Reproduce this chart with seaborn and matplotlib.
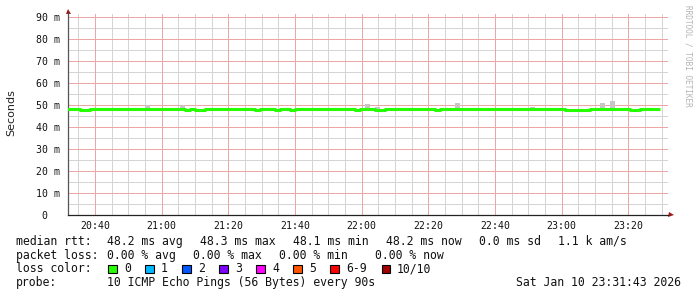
import numpy as np
import pandas as pd
import matplotlib
matplotlib.use("Agg")
import matplotlib.pyplot as plt
import seaborn as sns
from matplotlib.patches import Rectangle
from matplotlib.ticker import FixedLocator, FixedFormatter

# ---------------- data ----------------
# median rtt (ms) per 90 s step, first step starts 20:31:00
median_ms = [
    48.2, 48.2, 48.2, 47.8, 47.8, 48.2, 48.2, 48.2, 48.2, 48.2,
    48.2, 48.2, 48.2, 48.2, 48.2, 48.2, 48.2, 48.2, 48.2, 48.2,
    48.2, 48.2, 48.2, 48.2, 47.8, 48.2, 47.8, 47.8, 48.2, 48.2,
    48.2, 48.2, 48.2, 48.2, 48.2, 48.2, 48.2, 48.2, 47.8, 48.2,
    48.2, 48.2, 47.8, 48.2, 48.2, 47.8, 48.2, 48.2, 48.2, 48.2,
    48.2, 48.2, 48.2, 48.2, 48.2, 48.2, 48.2, 48.2, 47.8, 48.2,
    48.2, 48.2, 47.8, 47.8, 48.2, 48.2, 48.2, 48.2, 48.2, 48.2,
    48.2, 48.2, 48.2, 48.2, 47.8, 48.2, 48.2, 48.2, 48.2, 48.2,
    48.2, 48.2, 48.2, 48.2, 48.2, 48.2, 48.2, 48.2, 48.2, 48.2,
    48.2, 48.2, 48.2, 48.2, 48.2, 48.2, 48.2, 48.2, 48.2, 48.2,
    47.8, 47.8, 47.8, 47.8, 47.8, 48.2, 48.2, 48.2, 48.2, 48.2,
    48.2, 48.2, 48.2, 47.8, 47.8, 48.2, 48.2, 48.2, 48.2,
]
# smoke (max ping) spikes visible above the median line
smoke_step = [16, 23, 60, 62, 78, 93, 107, 109]
smoke_top = [50.2, 49.9, 50.5, 49.0, 51.0, 49.2, 51.0, 51.9]
smoke_floor = 48.0

step_min = 1.5            # 90 s
first_step = 31.0         # minutes after 20:00
x_start, x_end = 31.72, 211.72   # 20:31:43 .. 23:31:43

xtick_pos = [40, 60, 80, 100, 120, 140, 160, 180, 200]
xtick_lab = ["20:40", "21:00", "21:20", "21:40", "22:00", "22:20", "22:40", "23:00", "23:20"]
xminor_pos = [35, 45, 50, 55, 65, 70, 75, 85, 90, 95, 105, 110, 115, 125, 130, 135,
              145, 150, 155, 165, 170, 175, 185, 190, 195, 205, 210]
ytick_pos = [0, 10, 20, 30, 40, 50, 60, 70, 80, 90]
ytick_lab = ["0  ", "10 m", "20 m", "30 m", "40 m", "50 m", "60 m", "70 m", "80 m", "90 m"]
yminor_pos = [5, 15, 25, 35, 45, 55, 65, 75, 85]

loss_labels = ["0", "1", "2", "3", "4", "5", "6-9", "10/10"]
loss_colors = ["#26ff00", "#00b8ff", "#0059ff", "#7e00ff", "#ff00ff", "#ff5500", "#ff0000", "#a10000"]

row1 = ["median rtt:", "48.2 ms avg", "48.3 ms max", "48.1 ms min", "48.2 ms now", "0.0 ms sd", "1.1 k am/s"]
row2 = ["packet loss:", "0.00 % avg", "0.00 % max", "0.00 % min", "0.00 % now"]
probe_txt = ["probe:", "10 ICMP Echo Pings (56 Bytes) every 90s"]
date_txt = "Sat Jan 10 23:31:43 2026"

# ---------------- figure ----------------
W, H = 697, 297
sns.set_theme(style="white")
plt.rcParams["font.family"] = ["DejaVu Sans"]
fig = plt.figure(figsize=(W / 100, H / 100), dpi=100, facecolor="white")

def fx(x):
    return x / W

def fy(y):
    return 1 - y / H

ax = fig.add_axes([fx(67.5), fy(215), 600 / W, 202 / H])
ax.set_facecolor("white")

# grid (dotted, drawn first)
dot = (0, (1, 1))
g_minor = dict(color="#d4d4d4", linestyle=dot, lw=0.72, antialiased=False, zorder=0.5)
g_major = dict(color="#eca6a6", linestyle=dot, lw=0.72, antialiased=False, zorder=0.6)
for v in yminor_pos:
    ax.axhline(v, **g_minor)
for v in xminor_pos:
    ax.axvline(v, **g_minor)
for v in ytick_pos[1:]:
    ax.axhline(v, **g_major)
for v in xtick_pos:
    ax.axvline(v, **g_major)

times = [first_step + step_min * i for i in range(len(median_ms) + 1)]
df = pd.DataFrame({"t": times, "ms": median_ms + [median_ms[-1]]})

smoke_t = [first_step + step_min * s for s in smoke_step]
ax.bar(smoke_t, [top - smoke_floor for top in smoke_top], bottom=smoke_floor,
       width=step_min, align="edge", color="#c6c6c6", linewidth=0, zorder=2)

sns.lineplot(data=df, x="t", y="ms", ax=ax, estimator=None, drawstyle="steps-post",
             color="#26ff00", lw=2.2, solid_capstyle="butt", zorder=3)

ax.set_xlim(x_start, x_end)
ax.set_ylim(0, 92)
ax.set_xlabel("")
ax.set_ylabel("")
ax.grid(False)

ax.xaxis.set_major_locator(FixedLocator(xtick_pos))
ax.xaxis.set_major_formatter(FixedFormatter(xtick_lab))
ax.xaxis.set_minor_locator(FixedLocator(xminor_pos))
ax.yaxis.set_major_locator(FixedLocator(ytick_pos))
ax.yaxis.set_major_formatter(FixedFormatter(ytick_lab))
ax.yaxis.set_minor_locator(FixedLocator(yminor_pos))

mono = "DejaVu Sans Mono"
ax.tick_params(which="major", length=1.6, width=0.72, color="#e6a0a0", direction="out",
               labelsize=7.1, labelcolor="#111111")
ax.tick_params(which="minor", length=1.6, width=0.72, color="#c8c8c8", direction="out")
ax.tick_params(axis="y", which="major", pad=4.0)
ax.tick_params(axis="x", which="major", pad=3.0)
for lab in ax.get_xticklabels() + ax.get_yticklabels():
    lab.set_family(mono)

for s in ["top", "right"]:
    ax.spines[s].set_visible(False)
ax.spines["left"].set_color("#555555")
ax.spines["left"].set_linewidth(0.9)
ax.spines["bottom"].set_color("#222222")
ax.spines["bottom"].set_linewidth(0.9)
ax.plot([0, 0], [1.0, 1.01], transform=ax.transAxes, color="#555555", lw=0.9, clip_on=False)
ax.plot([0], [1.012], marker="^", ms=3.6, color="#a01818", mew=0,
        transform=ax.transAxes, clip_on=False)
ax.plot([1.0055], [0], marker=">", ms=3.6, color="#a01818", mew=0,
        transform=ax.transAxes, clip_on=False)

fig.text(fx(11), fy(113), "Seconds", rotation=90, ha="center", va="center",
         fontsize=8, color="#222222")
fig.text(fx(688), fy(5), "RRDTOOL / TOBI OETIKER", rotation=270, ha="center", va="top",
         fontsize=5.6, color="#b4b4b4", family=mono)

fs = 8.3
row1_x = [16, 107.3, 200, 292.7, 386, 479.3, 558.3]
for txt, x in zip(row1, row1_x):
    fig.text(fx(x), fy(241.5), txt, family=mono, fontsize=fs, va="center", ha="left", color="#111111")
row2_x = [16, 107.3, 193.3, 279.3, 375]
for txt, x in zip(row2, row2_x):
    fig.text(fx(x), fy(255.2), txt, family=mono, fontsize=fs, va="center", ha="left", color="#111111")

fig.text(fx(16), fy(268.8), "loss color:", family=mono, fontsize=fs, va="center", ha="left", color="#111111")
sq_x = [108.3, 145.3, 182.3, 219.3, 256.3, 293.3, 330.3, 381.7]
lab_x = [124, 161, 198, 235, 272, 309, 346, 396.7]
for lab, col, sx, lx in zip(loss_labels, loss_colors, sq_x, lab_x):
    fig.add_artist(Rectangle((fx(sx), fy(273.3)), 8.5 / W, 8.5 / H, transform=fig.transFigure,
                             facecolor=col, edgecolor="black", lw=0.8))
    fig.text(fx(lx), fy(268.8), lab, family=mono, fontsize=fs, va="center", ha="left", color="#111111")

fig.text(fx(16), fy(282.5), probe_txt[0], family=mono, fontsize=fs, va="center", ha="left", color="#111111")
fig.text(fx(107.3), fy(282.5), probe_txt[1], family=mono, fontsize=fs, va="center", ha="left", color="#111111")
fig.text(fx(680.5), fy(282.5), date_txt, family=mono, fontsize=fs, va="center", ha="right", color="#111111")

fig.savefig("out.png", dpi=100, facecolor="white")
